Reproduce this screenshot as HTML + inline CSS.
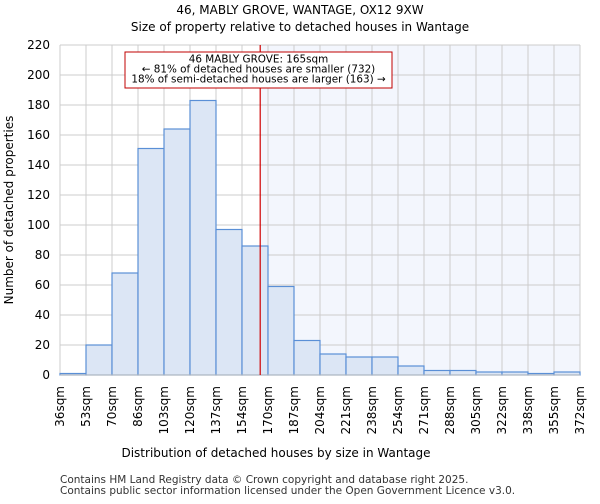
<!DOCTYPE html>
<html><head><meta charset="utf-8"><style>
body{margin:0;background:#fff;font-family:"DejaVu Sans","Liberation Sans",sans-serif}
</style></head><body>
<svg width="600" height="500" xmlns="http://www.w3.org/2000/svg" font-family="DejaVu Sans, Liberation Sans, sans-serif">
<text x="300" y="14" text-anchor="middle" font-size="12">46, MABLY GROVE, WANTAGE, OX12 9XW</text>
<text x="300" y="31" text-anchor="middle" font-size="12">Size of property relative to detached houses in Wantage</text>
<g id="plot"></g>
<text x="276" y="457" text-anchor="middle" font-size="12">Distribution of detached houses by size in Wantage</text>
<text transform="translate(13,210) rotate(-90)" text-anchor="middle" font-size="12">Number of detached properties</text>
<text x="60" y="483" font-size="10.5" fill="#333">Contains HM Land Registry data © Crown copyright and database right 2025.</text>
<text x="60" y="494" font-size="10.5" fill="#333">Contains public sector information licensed under the Open Government Licence v3.0.</text>
</svg>
<script>
const binLabels=["36sqm","53sqm","70sqm","86sqm","103sqm","120sqm","137sqm","154sqm","170sqm","187sqm","204sqm","221sqm","238sqm","254sqm","271sqm","288sqm","305sqm","322sqm","338sqm","355sqm","372sqm"];
const counts=[1,20,68,151,164,183,97,86,59,23,14,12,12,6,3,3,2,2,1,2];
const yTicks=[0,20,40,60,80,100,120,140,160,180,200,220];
const markerIndex=7.7;
const L=60,R=580,T=45,B=375,yMax=220;
const ns="http://www.w3.org/2000/svg";
const g=document.getElementById('plot');
const bw=(R-L)/counts.length;
const xs=i=>L+i*bw;
const ys=v=>B-v/yMax*(B-T);
function mk(t,a){const e=document.createElementNS(ns,t);for(const k in a)e.setAttribute(k,a[k]);g.appendChild(e);return e;}
const mx=xs(markerIndex);
let sh=mk('rect',{x:mx,y:T,width:R-mx,height:B-T,fill:'#f3f6fd'});


yTicks.forEach(v=>{
 let l=mk('line',{x1:L,x2:R,y1:ys(v),y2:ys(v),stroke:'#cccccc'});
 
 
 let t=mk('text',{x:L-10,y:ys(v)+4,'text-anchor':'end','font-size':'12'});
 t.textContent=v;
 
 
});
binLabels.forEach((s,i)=>{
 let l=mk('line',{x1:xs(i),x2:xs(i),y1:T,y2:B,stroke:'#cccccc'});
 
 
 let t=mk('text',{transform:`translate(${xs(i)+4},386) rotate(-90)`,'text-anchor':'end','font-size':'12'});
 t.textContent=s;
 
 
});
counts.forEach((v,i)=>{
 let r=mk('rect',{x:xs(i),y:ys(v),width:bw,height:B-ys(v),fill:'#dce6f5',stroke:'#5a8fd6','stroke-width':1.2});
 
 
});
let ax=mk('line',{x1:L,x2:R,y1:B,y2:B,stroke:'#bbb'});


let ml=mk('line',{x1:mx,x2:mx,y1:T,y2:B,stroke:'#d00000','stroke-width':1.2});


let box=mk('rect',{x:125,y:52,width:267,height:36,fill:'#fff',stroke:'#c00000'});


["46 MABLY GROVE: 165sqm","← 81% of detached houses are smaller (732)","18% of semi-detached houses are larger (163) →"].forEach((s,i)=>{
 let t=mk('text',{x:258.5,y:62.5+i*10,'text-anchor':'middle','font-size':'10.4'});
 t.textContent=s;
 
 
});
</script>
</body></html>
